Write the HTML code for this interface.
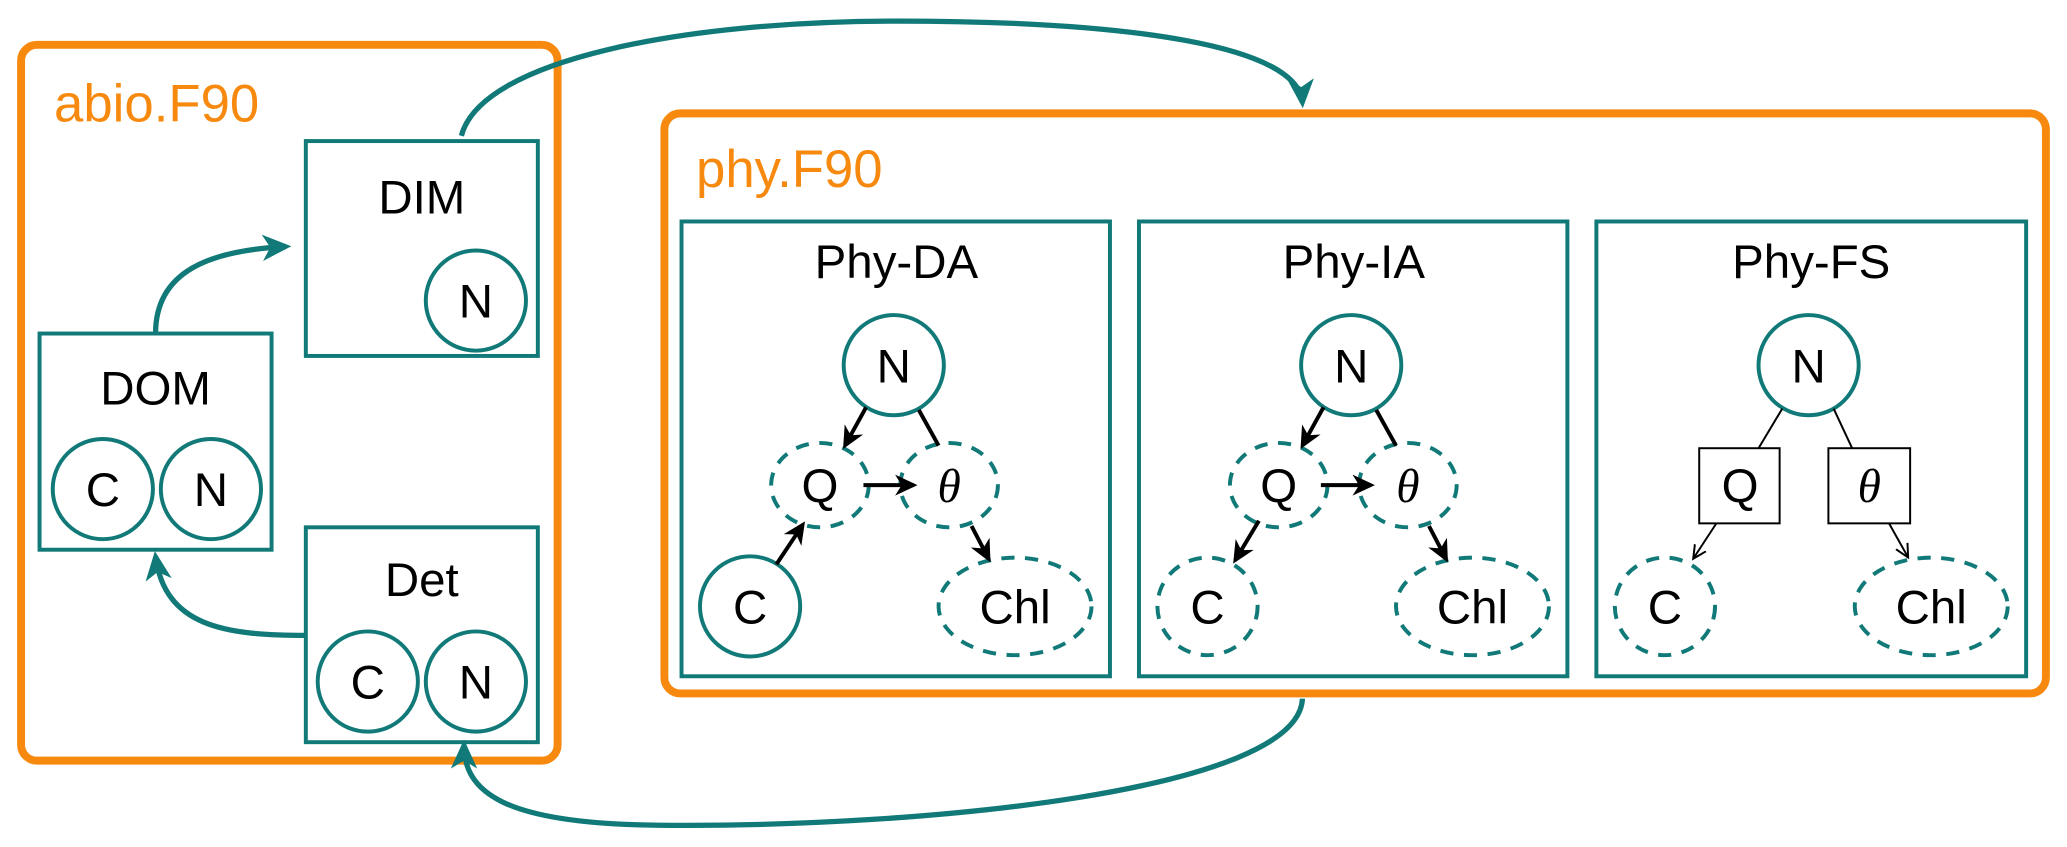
<!DOCTYPE html>
<html><head><style>
html,body{margin:0;padding:0;background:#fff;}
svg{display:block;}
text{font-family:"Liberation Sans",sans-serif;}
</style></head><body>
<svg width="2067" height="847" viewBox="0 0 1568 642.5" xmlns="http://www.w3.org/2000/svg">
<defs>
<marker id="ba" markerWidth="20" markerHeight="20" refX="14" refY="9" orient="auto" markerUnits="userSpaceOnUse"><path d="M0,1 L17,9 L0,17 L5,9 Z" fill="#000"/></marker>
<marker id="sa" markerWidth="12" markerHeight="12" refX="9" refY="6" orient="auto" markerUnits="userSpaceOnUse"><path d="M0,1 L10,6 L0,11" fill="none" stroke="#000" stroke-width="1.5"/></marker>
<marker id="tb" markerWidth="26" markerHeight="26" refX="18" refY="12" orient="auto" markerUnits="userSpaceOnUse"><path d="M0,2 L22,12 L0,22 L6,12 Z" fill="#117a78"/></marker>
</defs>
<g fill="none" stroke="#f7890f" stroke-width="6">
<rect x="16" y="34" width="407" height="543" rx="12"/>
<rect x="504" y="86" width="1048" height="440" rx="12"/>
</g>
<g font-size="40" fill="#f7890f">
<text x="41" y="92">abio.F90</text>
<text x="528" y="142">phy.F90</text>
</g>
<g fill="none" stroke="#117a78" stroke-width="3">
<rect x="232" y="107" width="176" height="163"/>
<rect x="30" y="253" width="176" height="164"/>
<rect x="232" y="400" width="176" height="163"/>
<rect x="517" y="168" width="325" height="345"/>
<rect x="864" y="168" width="325" height="345"/>
<rect x="1211" y="168" width="326" height="345"/>
<circle cx="361" cy="228" r="38"/>
<circle cx="78" cy="371" r="38"/><circle cx="160" cy="371" r="38"/>
<circle cx="279" cy="517" r="38"/><circle cx="361" cy="517" r="38"/>
<circle cx="678" cy="277" r="38"/><circle cx="1025" cy="277" r="38"/><circle cx="1372" cy="277" r="38"/>
<circle cx="569" cy="460" r="38"/>
</g>
<g fill="none" stroke="#117a78" stroke-width="3" stroke-dasharray="10,8">
<ellipse cx="622" cy="368" rx="37" ry="32"/><ellipse cx="720" cy="368" rx="37" ry="32"/>
<ellipse cx="770" cy="460" rx="58" ry="37"/>
<ellipse cx="970" cy="368" rx="37" ry="32"/><ellipse cx="1068" cy="368" rx="37" ry="32"/>
<ellipse cx="916" cy="460" rx="38" ry="37"/><ellipse cx="1117" cy="460" rx="58" ry="37"/>
<ellipse cx="1263" cy="460" rx="38" ry="37"/><ellipse cx="1465" cy="460" rx="58" ry="37"/>
</g>
<g fill="none" stroke="#000" stroke-width="1.5">
<rect x="1289" y="340" width="61" height="57"/>
<rect x="1387" y="340" width="62" height="57"/>
</g>
<g font-size="36" fill="#000" text-anchor="middle">
<text x="320" y="162">DIM</text><text x="361" y="241">N</text>
<text x="118" y="307">DOM</text><text x="78" y="384">C</text><text x="160" y="384">N</text>
<text x="320" y="452">Det</text><text x="279" y="530">C</text><text x="361" y="530">N</text>
<text x="680" y="211">Phy-DA</text><text x="1027" y="211">Phy-IA</text><text x="1374" y="211">Phy-FS</text>
<text x="678" y="290">N</text><text x="1025" y="290">N</text><text x="1372" y="290">N</text>
<text x="622" y="381">Q</text><text x="970" y="381">Q</text><text x="1320" y="381">Q</text>
<text x="569" y="473">C</text><text x="916" y="473">C</text><text x="1263" y="473">C</text>
<text x="770" y="473">Chl</text><text x="1117" y="473">Chl</text><text x="1465" y="473">Chl</text>
</g>
<g font-size="36" fill="#000" text-anchor="middle" font-style="italic">
<text x="720" y="381" style="font-family:'Liberation Serif',serif">θ</text>
<text x="1068" y="381" style="font-family:'Liberation Serif',serif">θ</text>
<text x="1418" y="381" style="font-family:'Liberation Serif',serif">θ</text>
</g>
<g stroke="#000" stroke-width="3" fill="none">
<line x1="657" y1="309" x2="641" y2="338" marker-end="url(#ba)"/>
<line x1="697" y1="311" x2="712" y2="338"/>
<line x1="655" y1="368" x2="693" y2="368" marker-end="url(#ba)"/>
<line x1="737" y1="399" x2="750" y2="424" marker-end="url(#ba)"/>
<line x1="589" y1="428" x2="609" y2="398" marker-end="url(#ba)"/>
<line x1="1004" y1="309" x2="988" y2="338" marker-end="url(#ba)"/>
<line x1="1044" y1="311" x2="1059" y2="338"/>
<line x1="1002" y1="368" x2="1040" y2="368" marker-end="url(#ba)"/>
<line x1="1084" y1="399" x2="1097" y2="424" marker-end="url(#ba)"/>
<line x1="955" y1="395" x2="937" y2="425" marker-end="url(#ba)"/>
</g>
<g stroke="#000" stroke-width="1.5" fill="none">
<line x1="1352" y1="310" x2="1334" y2="340"/>
<line x1="1391" y1="310" x2="1405" y2="340"/>
<line x1="1302" y1="397" x2="1285" y2="423" marker-end="url(#sa)"/>
<line x1="1433" y1="397" x2="1447" y2="422" marker-end="url(#sa)"/>
</g>
<g stroke="#117a78" stroke-width="4" fill="none">
<path d="M118,253 C118,205 160,190 217,187" marker-end="url(#tb)"/>
<path d="M232,482 C170,482 125,475 118,422" marker-end="url(#tb)"/>
<path d="M350,103 C365,45 520,16 680,16 C860,16 985,35 988,78" marker-end="url(#tb)"/>
<path d="M988,530 C985,600 700,628 500,626 C380,625 352,600 352,565" marker-end="url(#tb)"/>
</g>
</svg>
</body></html>
